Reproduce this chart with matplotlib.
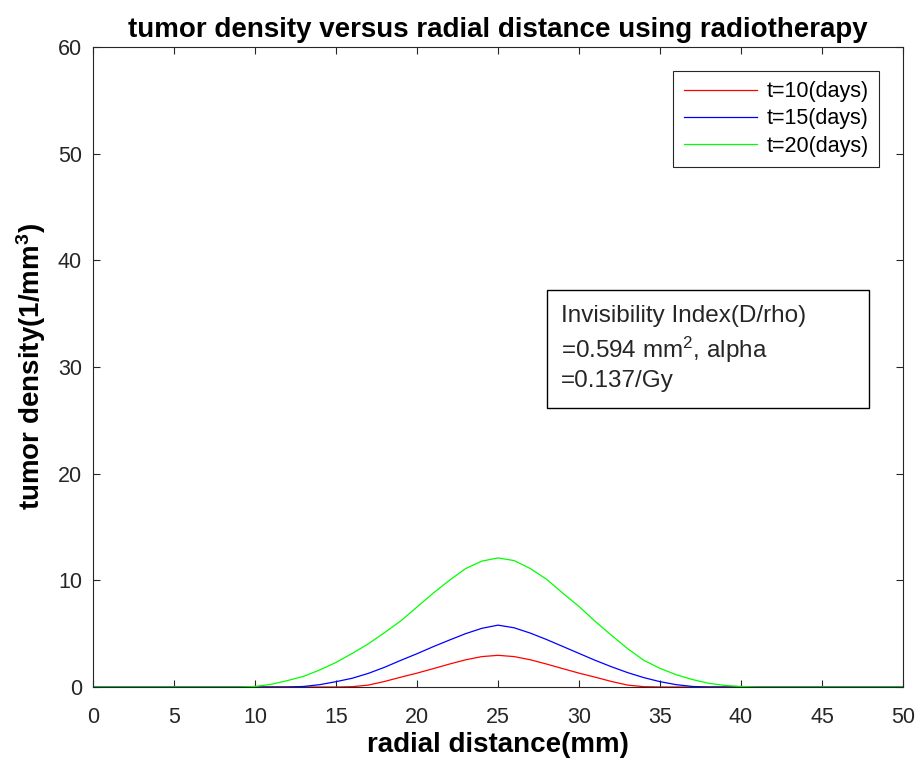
import matplotlib
matplotlib.use("Agg")
import numpy as np
import matplotlib.pyplot as plt
from matplotlib.patches import Rectangle

plt.rcParams['font.family'] = ['Liberation Sans', 'DejaVu Sans']
plt.rcParams['mathtext.fontset'] = 'custom'
plt.rcParams['mathtext.rm'] = 'Liberation Sans'
plt.rcParams['mathtext.it'] = 'Liberation Sans:italic'
plt.rcParams['mathtext.bf'] = 'Liberation Sans:bold'

# radial distance (mm), 1 mm steps
r = np.arange(0, 51)

# tumor density, x = 0..50
t10 = [0] * 16 + [0.03, 0.18, 0.52, 0.92, 1.3, 1.72, 2.15, 2.55, 2.85, 2.97,
                  2.85, 2.55, 2.15, 1.72, 1.3, 0.92, 0.52, 0.18, 0.03] + [0] * 16
t15 = [0] * 13 + [0.05, 0.22, 0.5, 0.82, 1.28, 1.85, 2.5, 3.12, 3.78, 4.4, 5.0, 5.5, 5.8,
                  5.55, 5.05, 4.45, 3.8, 3.15, 2.5, 1.9, 1.35, 0.88, 0.5, 0.22, 0.05] + [0] * 13
t20 = [0] * 10 + [0.05, 0.25, 0.6, 1.0, 1.6, 2.3, 3.15, 4.05, 5.1, 6.2, 7.5, 8.8, 10.0, 11.1,
                  11.8, 12.1, 11.85, 11.1, 10.1, 8.8, 7.55, 6.15, 4.85, 3.6, 2.5, 1.75, 1.15,
                  0.7, 0.35, 0.15, 0.05] + [0] * 10

labels = ['t=10(days)', 't=15(days)', 't=20(days)']
colors = ['#ff0000', '#0000ff', '#00ff00']

fig = plt.figure(figsize=(9.22, 7.72), dpi=100)
ax = fig.add_axes([93 / 922, 1 - 687 / 772, 810 / 922, 640 / 772])

for y, lab, c in zip([t10, t15, t20], labels, colors):
    ax.plot(r, y, color=c, lw=0.9, label=lab)

ax.set_xlim(0, 50)
ax.set_ylim(0, 60)
ax.set_xticks(np.arange(0, 51, 5))
ax.set_yticks(np.arange(0, 61, 10))
ax.tick_params(direction='in', length=5, width=0.8, top=True, right=True,
               labelsize=15.5, colors='#262626')
ax.tick_params(axis='x', pad=14.5)
ax.tick_params(axis='y', pad=8)
for s in ax.spines.values():
    s.set_color('#262626')
    s.set_linewidth(0.8)

ax.set_title('tumor density versus radial distance using radiotherapy',
             fontsize=20, fontweight='bold', pad=7)
ax.set_xlabel('radial distance(mm)', fontsize=20, fontweight='bold', labelpad=3)
ax.set_ylabel(r'tumor density(1/mm$^{\mathbf{3}}$)', fontsize=20, fontweight='bold', labelpad=7)

leg = ax.legend(loc='upper right', fontsize=15.5, fancybox=False, framealpha=1,
                edgecolor='#262626', handlelength=3.4, borderaxespad=1.1,
                labelspacing=0.28, handletextpad=0.42, borderpad=0.5)
leg.get_frame().set_linewidth(0.8)

# annotation box
ax.add_patch(Rectangle((0.561, 0.436), 0.397, 0.184, transform=ax.transAxes,
                       fill=True, facecolor='white', edgecolor='black', lw=1.0, zorder=5))
ax.text(0.5775, 0.597, 'Invisibility Index(D/rho)\n=0.594 mm$^2$, alpha\n=0.137/Gy',
        transform=ax.transAxes, fontsize=17.5, va='top', ha='left',
        linespacing=1.32, zorder=6, color='#262626')

fig.savefig('out.png', dpi=100)
